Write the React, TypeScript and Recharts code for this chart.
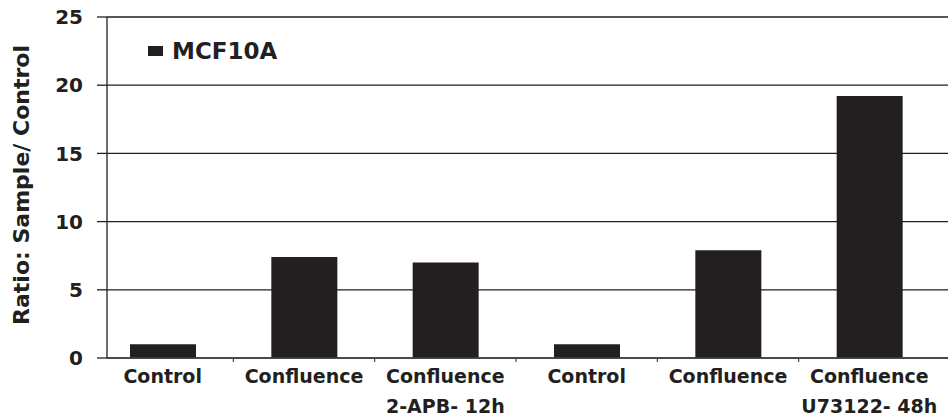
import { Bar, BarChart, CartesianGrid, Legend, XAxis, YAxis } from "recharts"

const labelTop = ["Control", "Confluence", "Confluence", "Control", "Confluence", "Confluence"]
const labelBottom = ["", "", "2-APB- 12h", "", "", "U73122- 48h"]
const ratios = [1.0, 7.4, 7.0, 1.0, 7.9, 19.2]
const yTicks = [0, 5, 10, 15, 20, 25]
const seriesName = "MCF10A"

const data = ratios.map((v, i) => ({ id: i, ratio: v }))

const FONT = "'DejaVu Sans', sans-serif"
const INK = "#231f20"

function XTick(props: any) {
  const { x, y, payload } = props
  const i = payload.index ?? props.index
  const half = payload.offset ?? 70
  return (
    <g>
      {i < ratios.length - 1 && (
        <line x1={x + half} x2={x + half} y1={y} y2={y + 4} stroke="#444" strokeWidth={1.2} />
      )}
      <text x={x} y={y + 25} textAnchor="middle" fontFamily={FONT} fontWeight="bold" fontSize={19} fill={INK}>
        {labelTop[i]}
      </text>
      {labelBottom[i] && (
        <text x={x} y={y + 55} textAnchor="middle" fontFamily={FONT} fontWeight="bold" fontSize={19} fill={INK}>
          {labelBottom[i]}
        </text>
      )}
    </g>
  )
}

function renderLegend() {
  return (
    <div style={{ display: "flex", alignItems: "flex-start", fontFamily: FONT, fontWeight: "bold", fontSize: 23, color: INK }}>
      <span style={{ display: "inline-block", width: 15, height: 10, background: INK, marginTop: 6, marginRight: 9 }} />
      <span style={{ lineHeight: "22px" }}>{seriesName}</span>
    </div>
  )
}

export default function App() {
  return (
    <div style={{ width: 948, height: 420, background: "#fff" }}>
      <style>{"body{margin:0}"}</style>
      <BarChart width={948} height={420} data={data} margin={{ top: 17, right: 0, bottom: 0, left: 0 }}>
        <CartesianGrid vertical={false} stroke={INK} strokeWidth={1.3} />
        <XAxis
          dataKey="id"
          type="category"
          interval={0}
          height={62}
          tickSize={0}
          tickMargin={0}
          tickLine={false}
          axisLine={{ stroke: "#444", strokeWidth: 1.3 }}
          padding={{ left: -15, right: 8 }}
          tick={<XTick />}
        />
        <YAxis
          type="number"
          domain={[0, 25]}
          ticks={yTicks}
          width={107}
          tickSize={10}
          tickMargin={14}
          tickLine={{ stroke: INK, strokeWidth: 1.3 }}
          axisLine={{ stroke: INK, strokeWidth: 1.3 }}
          tick={{ fontFamily: FONT, fontWeight: "bold", fontSize: 20, fill: INK }}
          label={{
            content: () => (
              <text
                transform="translate(29,185) rotate(-90)"
                textAnchor="middle"
                fontFamily={FONT}
                fontWeight="bold"
                fontSize={22}
                fill={INK}
              >
                Ratio: Sample/ Control
              </text>
            ),
          }}
        />
        <Legend
          verticalAlign="middle"
          align="center"
          layout="horizontal"
          content={renderLegend}
          wrapperStyle={{ position: "absolute", top: 40, left: 148, width: "auto", margin: 0 }}
        />
        <Bar dataKey="ratio" name={seriesName} fill={INK} barSize={66} isAnimationActive={false} />
      </BarChart>
    </div>
  )
}
